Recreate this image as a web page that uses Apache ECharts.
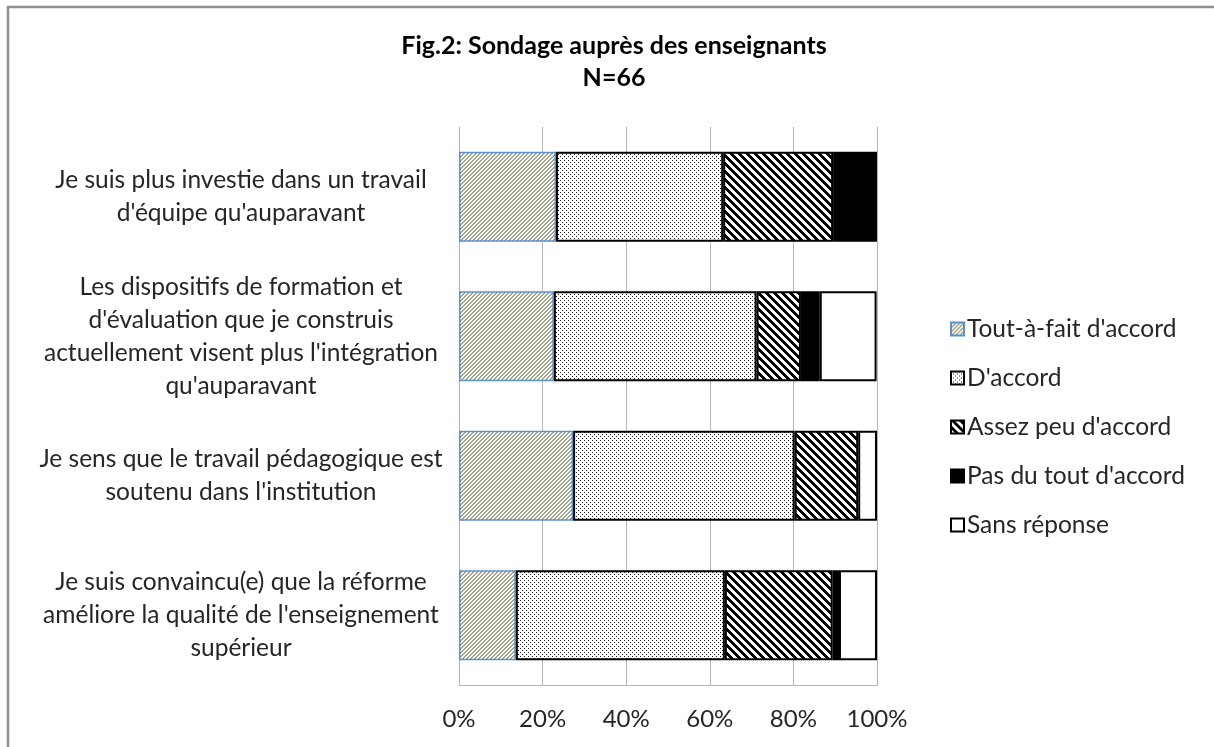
<!DOCTYPE html>
<html>
<head>
<meta charset="utf-8">
<script src="https://cdn.jsdelivr.net/npm/echarts@6/dist/echarts.min.js"></script>
<style>
  html, body { margin: 0; padding: 0; background: #fff; }
  #chart { width: 1214px; height: 747px; }
</style>
</head>
<body>
<div id="chart"></div>
<script>
// Survey statements (top to bottom)
const questions = [
  "Je suis plus investie dans un travail\nd'équipe qu'auparavant",
  "Les dispositifs de formation et\nd'évaluation que je construis\nactuellement visent plus l'intégration\nqu'auparavant",
  "Je sens que le travail pédagogique est\nsoutenu dans l'institution",
  "Je suis convaincu(e) que la réforme\naméliore la qualité de l'enseignement\nsupérieur"
];

// Answer categories
const answerNames = [
  "Tout-à-fait d'accord",
  "D'accord",
  "Assez peu d'accord",
  "Pas du tout d'accord",
  "Sans réponse"
];

// Share of answers per statement, in %
const toutAFait   = [23.2, 22.7, 27.3, 13.6];
const dAccord     = [40.0, 48.5, 53.0, 50.0];
const assezPeu    = [26.3, 10.6, 15.2, 25.8];
const pasDuTout   = [10.5, 4.5, 0, 1.5];
const sansReponse = [0, 13.6, 4.5, 9.1];

// Value axis ticks
const axisTicks = [0, 20, 40, 60, 80, 100];

const FONT = 'Lato, "Open Sans", sans-serif';

// Small repeating fill patterns
function pattern(w, h, bg, fg, test) {
  const c = document.createElement('canvas');
  c.width = w; c.height = h;
  const g = c.getContext('2d');
  g.fillStyle = bg; g.fillRect(0, 0, w, h);
  g.fillStyle = fg;
  for (let y = 0; y < h; y++) {
    for (let x = 0; x < w; x++) {
      if (test(x, y)) g.fillRect(x, y, 1, 1);
    }
  }
  return { image: c, repeat: 'repeat' };
}

const fineStripes = pattern(4, 4, '#ffffff', '#a0a68a', (x, y) => (x + y) % 4 < 2);
const dots = pattern(4, 4, '#ffffff', '#1e1e1e', (x, y) => (x === 0 && y === 0) || (x === 2 && y === 2));
const wideStripes = pattern(8, 8, '#ffffff', '#000000', (x, y) => (((x - y) % 8) + 8) % 8 < 4);

const styles = [
  { color: fineStripes, borderColor: '#5b8fd0', borderWidth: 1.5 },
  { color: dots, borderColor: '#000000', borderWidth: 2 },
  { color: wideStripes, borderColor: '#000000', borderWidth: 2 },
  { color: '#000000', borderColor: '#000000', borderWidth: 2 },
  { color: '#ffffff', borderColor: '#000000', borderWidth: 2 }
];

const values = [toutAFait, dAccord, assezPeu, pasDuTout, sansReponse];

const series = answerNames.map((name, i) => ({
  name: name,
  type: 'bar',
  stack: 'total',
  barWidth: 90,
  itemStyle: styles[i],
  emphasis: { disabled: true },
  data: values[i].map(v => (v === 0 ? '-' : v))
}));

const chart = echarts.init(document.getElementById('chart'), null, { renderer: 'canvas' });

chart.setOption({
  animation: false,
  backgroundColor: '#ffffff',
  graphic: [
    {
      type: 'rect',
      shape: { x: 8, y: 7, width: 1230, height: 780 },
      style: { fill: 'none', stroke: '#8f8f8f', lineWidth: 2.5 },
      silent: true
    },
    {
      type: 'text',
      x: 614, y: 46,
      style: {
        text: 'Fig.2: Sondage auprès des enseignants',
        font: 'bold 25px ' + FONT,
        fill: '#000000',
        textAlign: 'center',
        textVerticalAlign: 'middle'
      }
    },
    {
      type: 'text',
      x: 614, y: 78,
      style: {
        text: 'N=66',
        font: 'bold 25px ' + FONT,
        fill: '#000000',
        textAlign: 'center',
        textVerticalAlign: 'middle'
      }
    }
  ],
  legend: {
    orient: 'vertical',
    left: 945,
    top: 311,
    itemWidth: 13,
    itemHeight: 13,
    itemGap: 23,
    icon: 'rect',
    selectedMode: false,
    textStyle: { fontFamily: FONT, fontSize: 24.5, color: '#262626', lineHeight: 26, padding: [0, 0, 0, -2] },
    data: answerNames
  },
  grid: {
    left: 459,
    right: 337,
    top: 127,
    bottom: 62,
    containLabel: false,
    outerBoundsMode: 'none'
  },
  xAxis: {
    type: 'value',
    min: axisTicks[0],
    max: axisTicks[axisTicks.length - 1],
    interval: axisTicks[1] - axisTicks[0],
    axisLine: { show: true, lineStyle: { color: '#b5b5b5', width: 1 } },
    axisTick: { show: false },
    splitLine: { show: true, lineStyle: { color: '#b5b5b5', width: 1 } },
    axisLabel: {
      formatter: '{value}%',
      fontFamily: FONT,
      fontSize: 24,
      color: '#262626',
      margin: 22
    }
  },
  yAxis: {
    type: 'category',
    inverse: true,
    data: questions,
    axisLine: { show: true, lineStyle: { color: '#b5b5b5', width: 1 } },
    axisTick: { show: false },
    axisLabel: {
      align: 'center',
      margin: 218,
      fontFamily: FONT,
      fontSize: 24.5,
      lineHeight: 33,
      color: '#262626'
    }
  },
  series: series
});
</script>
</body>
</html>
